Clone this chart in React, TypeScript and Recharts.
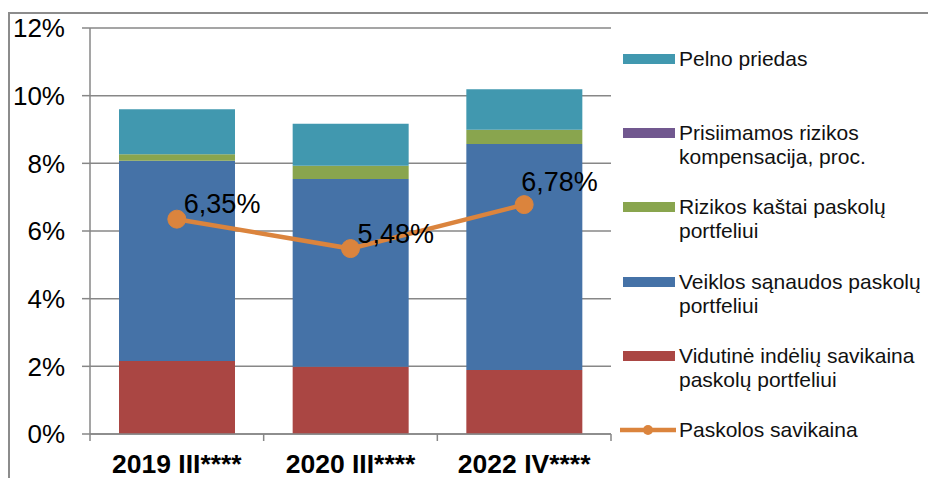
import { ComposedChart, Bar, Line, XAxis, YAxis, CartesianGrid, LabelList } from 'recharts'

const categories = ['2019 III****', '2020 III****', '2022 IV****']
const depositCost = [2.16, 1.99, 1.89]
const operatingCost = [5.92, 5.55, 6.68]
const riskCost = [0.19, 0.39, 0.42]
const riskCompensation = [0, 0, 0]
const profitMargin = [1.33, 1.24, 1.2]
const loanCost = [6.35, 5.48, 6.78]
const yTicks = [0, 2, 4, 6, 8, 10, 12]

const data = categories.map((name, i) => ({
  name,
  deposit: depositCost[i],
  operating: operatingCost[i],
  risk: riskCost[i],
  compensation: riskCompensation[i],
  profit: profitMargin[i],
  loan: loanCost[i],
}))

const AXIS = '#878787'
const FONT = '"Liberation Sans", Arial, sans-serif'
const COLORS = {
  profit: '#4198AF',
  compensation: '#71588F',
  risk: '#89A54E',
  operating: '#4572A7',
  deposit: '#AA4643',
  loan: '#DB843D',
}

const legendItems = [
  { lines: ['Pelno priedas'], color: COLORS.profit },
  { lines: ['Prisiimamos rizikos', 'kompensacija, proc.'], color: COLORS.compensation },
  { lines: ['Rizikos kaštai paskolų', 'portfeliui'], color: COLORS.risk },
  { lines: ['Veiklos sąnaudos paskolų', 'portfeliui'], color: COLORS.operating },
  { lines: ['Vidutinė indėlių savikaina', 'paskolų portfeliui'], color: COLORS.deposit },
  { lines: ['Paskolos savikaina'], color: COLORS.loan, line: true },
]

// where each value label sits relative to its point
const labelOffsets = [
  { dx: 7, dy: -15 },
  { dx: 7, dy: -15 },
  { dx: -3, dy: -23 },
]

const fmtPct = (v: number) => `${v.toFixed(2).replace('.', ',')}%`

function CategoryTick(props: any) {
  const { x, y, payload, index, visibleTicksCount } = props
  const half = payload.offset || 0
  return (
    <g>
      <line x1={x - half} x2={x - half} y1={y} y2={y + 7} stroke={AXIS} strokeWidth={1.5} />
      {index === visibleTicksCount - 1 && (
        <line x1={x + half} x2={x + half} y1={y} y2={y + 7} stroke={AXIS} strokeWidth={1.5} />
      )}
      <text x={x} y={y + 39} textAnchor="middle" fontSize={26.5} fontWeight="bold" fill="#000" fontFamily={FONT}>
        {payload.value}
      </text>
    </g>
  )
}

function LoanLabel(props: any) {
  const { x, y, value, index } = props
  const o = labelOffsets[index] || { dx: 7, dy: -15 }
  return (
    <text x={x + o.dx} y={y + o.dy} dominantBaseline="central" fontSize={27} fill="#000" fontFamily={FONT}>
      {fmtPct(value)}
    </text>
  )
}

function ChartLegend() {
  return (
    <div style={{ position: 'absolute', left: 612, top: 39, fontFamily: FONT, fontSize: 21, color: '#111' }}>
      {legendItems.map(item => (
        <div key={item.lines[0]} style={{ display: 'flex', height: 74.2, lineHeight: '24px' }}>
          <svg width={58} height={24} style={{ flexShrink: 0 }}>
            {item.line ? (
              <>
                <line x1={0} x2={56} y1={12} y2={12} stroke={item.color} strokeWidth={4.5} />
                <circle cx={28} cy={12} r={5} fill={item.color} />
              </>
            ) : (
              <rect x={3} y={7} width={52} height={10} fill={item.color} />
            )}
          </svg>
          <div style={{ marginLeft: 1, whiteSpace: 'nowrap' }}>
            {item.lines.map(l => (
              <div key={l}>{l}</div>
            ))}
          </div>
        </div>
      ))}
    </div>
  )
}

export default function App() {
  return (
    <div style={{ position: 'relative', width: 920, height: 470, overflow: 'hidden', fontFamily: FONT }}>
      <div
        style={{
          position: 'absolute',
          left: 0,
          top: 4,
          width: 1200,
          height: 800,
          border: '2px solid #8c8c8c',
        }}
      />
      <ComposedChart
        width={920}
        height={470}
        data={data}
        margin={{ top: 20, right: 317, bottom: 0, left: 0 }}
        style={{ position: 'absolute', left: 0, top: 0 }}
      >
        <CartesianGrid vertical={false} stroke={AXIS} strokeWidth={1.5} />
        <XAxis
          dataKey="name"
          height={44}
          axisLine={{ stroke: AXIS, strokeWidth: 1.5 }}
          tickLine={false}
          tickSize={0}
          tickMargin={0}
          interval={0}
          tick={<CategoryTick />}
        />
        <YAxis
          width={82}
          domain={[0, 12]}
          ticks={yTicks}
          tickFormatter={(v: number) => `${v}%`}
          axisLine={{ stroke: AXIS, strokeWidth: 1.5 }}
          tickLine={{ stroke: AXIS, strokeWidth: 1.5 }}
          tickSize={8}
          tickMargin={17}
          tick={{ fontSize: 26, fill: '#000', fontFamily: FONT }}
        />
        <Bar dataKey="deposit" stackId="a" fill={COLORS.deposit} barSize={116} isAnimationActive={false} />
        <Bar dataKey="operating" stackId="a" fill={COLORS.operating} barSize={116} isAnimationActive={false} />
        <Bar dataKey="risk" stackId="a" fill={COLORS.risk} barSize={116} isAnimationActive={false} />
        <Bar dataKey="compensation" stackId="a" fill={COLORS.compensation} barSize={116} isAnimationActive={false} />
        <Bar dataKey="profit" stackId="a" fill={COLORS.profit} barSize={116} isAnimationActive={false} />
        <Line
          dataKey="loan"
          stroke={COLORS.loan}
          strokeWidth={4.5}
          dot={{ r: 9, fill: COLORS.loan, stroke: COLORS.loan, strokeWidth: 1 }}
          activeDot={false}
          isAnimationActive={false}
        >
          <LabelList dataKey="loan" content={<LoanLabel />} />
        </Line>
      </ComposedChart>
      <ChartLegend />
    </div>
  )
}
